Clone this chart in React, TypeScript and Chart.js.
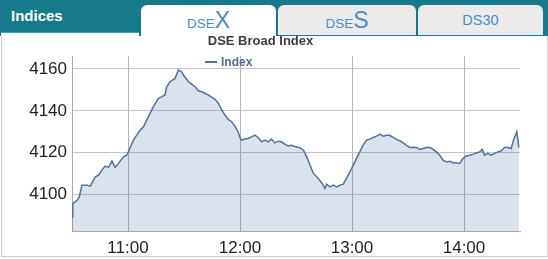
import React, { useEffect, useRef } from "react";
import Chart from "chart.js/auto";

// Session starts at 10:30 (minutes since midnight)
const OPEN_MINUTE = 630;
const CLOSE_MINUTE = 870;

// Minutes after 10:30
const minutes = [
  0, 0.4, 2.7, 3.9, 5.3, 8.0, 9.8, 12.5, 14.2, 16.0, 17.8, 19.6, 21.4, 23.1, 24.9, 27.6, 29.4,
  31.2, 32.9, 34.7, 36.5, 38.3, 40.0, 41.8, 43.6, 46.3, 48.0, 49.8, 50.7, 52.5, 55.2, 57.0, 58.7,
  59.7, 62.4, 64.1, 65.9, 67.7, 69.5, 71.2, 73.0, 74.8, 76.6, 78.4, 80.1, 81.9, 83.7, 85.5, 87.3,
  89.0, 89.9, 90.8, 92.6, 94.4, 96.2, 98.0, 99.7, 101.5, 103.3, 105.1, 106.9, 108.6, 110.4, 112.2,
  114.0, 115.8, 117.5, 119.5, 122.2, 124.0, 125.7, 127.5, 129.3, 131.1, 132.9, 134.6, 135.5, 136.4,
  138.2, 140.0, 141.8, 143.5, 145.3, 147.1, 148.9, 150.7, 152.4, 154.2, 156.0, 157.8, 159.6, 161.3,
  163.1, 164.9, 166.7, 168.5, 170.2, 172.0, 173.8, 175.6, 177.4, 179.1, 180.9, 182.8, 184.6, 186.3,
  188.1, 189.9, 191.7, 193.5, 195.2, 197.0, 198.8, 200.6, 202.4, 204.1, 205.9, 207.7, 209.5, 211.3,
  213.0, 214.8, 216.6, 218.4, 219.8, 221.0, 222.8, 224.6, 226.4, 228.2, 230.0, 231.7, 233.5, 235.3,
  236.5, 238.3, 239.4,
];

const indexValues = [
  4089.3, 4095.7, 4097.3, 4098.9, 4104.5, 4104.5, 4104.0, 4108.5, 4109.3, 4111.7, 4113.6, 4113.0,
  4116.1, 4113.0, 4114.9, 4118.0, 4118.8, 4122.5, 4126.0, 4128.4, 4130.8, 4132.4, 4135.6, 4138.8,
  4142.0, 4146.0, 4146.7, 4147.6, 4151.5, 4153.9, 4155.5, 4159.5, 4158.7, 4157.1, 4153.9, 4152.8,
  4151.5, 4149.6, 4149.1, 4148.4, 4147.6, 4146.5, 4145.5, 4143.6, 4140.7, 4138.0, 4135.9, 4134.8,
  4132.7, 4130.0, 4127.3, 4126.0, 4126.5, 4126.8, 4127.6, 4128.4, 4127.3, 4125.2, 4126.0, 4125.2,
  4126.5, 4124.7, 4125.5, 4125.2, 4124.1, 4123.2, 4123.6, 4123.0, 4122.3, 4121.2, 4118.0, 4114.1,
  4110.1, 4108.5, 4106.6, 4104.5, 4102.9, 4105.0, 4103.7, 4104.5, 4103.7, 4104.5, 4105.0, 4107.7,
  4110.9, 4114.1, 4117.3, 4120.4, 4123.6, 4126.0, 4126.5, 4127.3, 4127.9, 4128.9, 4127.9, 4128.3,
  4128.3, 4127.3, 4126.4, 4125.7, 4124.7, 4123.6, 4122.5, 4122.6, 4122.5, 4121.6, 4122.0, 4122.5,
  4122.5, 4121.6, 4120.4, 4118.8, 4116.4, 4115.6, 4115.9, 4115.2, 4115.2, 4114.9, 4117.3, 4118.4,
  4118.8, 4119.2, 4119.9, 4120.4, 4121.6, 4118.8, 4119.7, 4118.8, 4119.7, 4120.4, 4120.9, 4122.5,
  4122.5, 4122.0, 4126.0, 4130.0, 4122.5,
];

const xTickMinutes = [660, 720, 780, 840];
const yTickValues = [4100, 4120, 4140, 4160];
const Y_MIN = 4082.6;
const Y_MAX = 4166.2;

const CHART_TITLE = "DSE Broad Index";
const SERIES_NAME = "Index";
const PANEL_TITLE = "Indices";

const TEAL = "#167a8b";
const LINE = "#4f719a";
const TAB_TEXT = "#4a8cc4";
const FONT = "Arial, 'Liberation Sans', sans-serif";

function fmtTime(v: number) {
  const h = Math.floor(v / 60);
  const m = Math.round(v - h * 60);
  return `${h}:${m < 10 ? "0" + m : m}`;
}

export default function App() {
  const ref = useRef<HTMLCanvasElement>(null);

  useEffect(() => {
    const data = minutes.map((m, i) => ({ x: OPEN_MINUTE + m, y: indexValues[i] }));
    const tickFont = { family: FONT, size: 17 };
    const chart = new Chart(ref.current as HTMLCanvasElement, {
      type: "line",
      data: {
        datasets: [
          {
            label: SERIES_NAME,
            data,
            borderColor: LINE,
            borderWidth: 1.5,
            backgroundColor: "rgba(69,114,167,0.2)",
            fill: "start",
            pointRadius: 0,
            tension: 0,
          },
        ],
      },
      options: {
        animation: false,
        responsive: false,
        layout: { padding: { left: 0, right: 28, top: 56, bottom: 0 } },
        plugins: {
          legend: { display: false },
          title: { display: false },
          tooltip: { enabled: false },
        },
        scales: {
          x: {
            type: "linear",
            min: OPEN_MINUTE,
            max: CLOSE_MINUTE,
            afterBuildTicks: (s: any) => {
              s.ticks = xTickMinutes.map((v) => ({ value: v }));
            },
            afterFit: (s: any) => {
              s.height = 28;
            },
            ticks: {
              callback: (v: any) => fmtTime(Number(v)),
              font: tickFont,
              color: "#222",
              padding: 7,
              maxRotation: 0,
              autoSkip: false,
            },
            grid: { color: "#b4b4b4", drawTicks: false },
            border: { color: "#a8a8a8" },
          },
          y: {
            type: "linear",
            min: Y_MIN,
            max: Y_MAX,
            afterBuildTicks: (s: any) => {
              s.ticks = yTickValues.map((v) => ({ value: v }));
            },
            afterFit: (s: any) => {
              s.width = 72;
            },
            ticks: {
              callback: (v: any) => String(Math.round(Number(v))),
              font: tickFont,
              color: "#222",
              padding: 5,
            },
            grid: { color: "#c4c4c4", drawTicks: false },
            border: { color: "#a8a8a8" },
          },
        },
      },
    } as any);
    return () => chart.destroy();
  }, []);

  const tabStyle = (left: number, width: number, active: boolean): React.CSSProperties => ({
    position: "absolute",
    left,
    top: 5,
    width,
    height: active ? 32 : 30,
    background: active ? "#ffffff" : "#ebebeb",
    borderTopLeftRadius: 6,
    borderTopRightRadius: 6,
    textAlign: "center",
    color: TAB_TEXT,
    fontFamily: FONT,
    lineHeight: "30px",
  });

  return (
    <div
      style={{
        position: "fixed",
        left: 0,
        top: 0,
        width: 548,
        height: 259,
        background: "#fff",
        overflow: "hidden",
        fontFamily: FONT,
      }}
    >
      <div style={{ position: "absolute", left: 0, top: 0, width: 548, height: 36, background: TEAL }} />
      <div
        style={{
          position: "absolute",
          left: 11,
          top: 7,
          color: "#fff",
          fontWeight: "bold",
          fontSize: 15,
          fontFamily: FONT,
        }}
      >
        {PANEL_TITLE}
      </div>
      {/* content frame */}
      <div
        style={{
          position: "absolute",
          left: 1,
          top: 32,
          width: 138,
          height: 6,
          background: "#fff",
          borderTop: "1px solid #2ea3b6",
        }}
      />
      <div
        style={{
          position: "absolute",
          left: 1,
          top: 36,
          width: 545,
          height: 220,
          background: "#fff",
          borderLeft: "1px solid #cfcfcf",
          borderRight: "1px solid #cfcfcf",
          borderBottom: "1px solid #c8c8c8",
        }}
      />
      <div style={tabStyle(141, 135, true)}>
        <span style={{ fontSize: 13.5 }}>DSE</span>
        <span style={{ fontSize: 23 }}>X</span>
      </div>
      <div style={tabStyle(278, 138, false)}>
        <span style={{ fontSize: 13.5 }}>DSE</span>
        <span style={{ fontSize: 23 }}>S</span>
      </div>
      <div style={tabStyle(418, 125, false)}>
        <span style={{ fontSize: 14.5 }}>DS30</span>
      </div>
      <canvas
        ref={ref}
        width={548}
        height={259}
        style={{ position: "absolute", left: 0, top: 0, width: 548, height: 259 }}
      />
      <div
        style={{
          position: "absolute",
          left: 0,
          width: 521,
          top: 33,
          textAlign: "center",
          fontWeight: "bold",
          fontSize: 13,
          color: "#3d3d3d",
          fontFamily: FONT,
        }}
      >
        {CHART_TITLE}
      </div>
      <div
        style={{
          position: "absolute",
          left: 205,
          top: 55,
          fontWeight: "bold",
          fontSize: 12,
          color: "#4d6d94",
          fontFamily: FONT,
          display: "flex",
          alignItems: "center",
        }}
      >
        <span
          style={{ display: "inline-block", width: 12, height: 2, background: LINE, marginRight: 4 }}
        />
        <span>{SERIES_NAME}</span>
      </div>
    </div>
  );
}
